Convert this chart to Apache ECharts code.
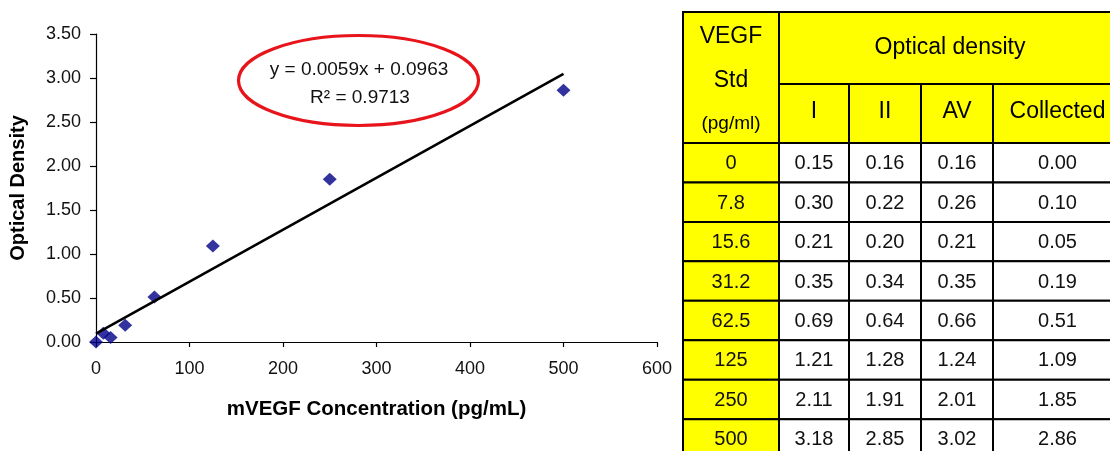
<!DOCTYPE html>
<html>
<head>
<meta charset="utf-8">
<script src="https://cdn.jsdelivr.net/npm/echarts@6/dist/echarts.min.js"></script>
<style>
html,body{margin:0;padding:0;background:#fff;}
#chart{width:1110px;height:451px;}
</style>
</head>
<body>
<div id="chart"></div>
<script>
// ---- data ----
var stdLabels = ['0', '7.8', '15.6', '31.2', '62.5', '125', '250', '500'];
var stdConc = [0, 7.8, 15.6, 31.2, 62.5, 125, 250, 500];
var odI = ['0.15', '0.30', '0.21', '0.35', '0.69', '1.21', '2.11', '3.18'];
var odII = ['0.16', '0.22', '0.20', '0.34', '0.64', '1.28', '1.91', '2.85'];
var odAV = ['0.16', '0.26', '0.21', '0.35', '0.66', '1.24', '2.01', '3.02'];
var odCollected = [0.00, 0.10, 0.05, 0.19, 0.51, 1.09, 1.85, 2.86];
var trendX = [0, 500];
var trendY = [0.0963, 3.0463];
var equationText = 'y = 0.0059x + 0.0963';
var r2Text = 'R\u00B2 = 0.9713';
var subHeaders = ['I', 'II', 'AV', 'Collected'];
var xTitle = 'mVEGF Concentration (pg/mL)';
var yTitle = 'Optical Density';

// ---- chart ----
var chart = echarts.init(document.getElementById('chart'), null, {renderer: 'canvas'});
var FONT = 'Arial, "Liberation Sans", sans-serif';

var scatterData = stdConc.map(function (x, i) { return [x, odCollected[i]]; });
var trendData = trendX.map(function (x, i) { return [x, trendY[i]]; });

// table graphics
var colX = [683, 779, 849, 921, 993, 1122];
var rowTop = 143, rowH = 39.45;
var YELLOW = '#ffff00';
var els = [];
function cell(x1, y1, x2, y2, fill) {
  els.push({type: 'rect', shape: {x: x1, y: y1, width: x2 - x1, height: y2 - y1},
    style: {fill: fill, stroke: '#000', lineWidth: 2}, z: 10});
}
function txt(s, x, y, size, color) {
  els.push({type: 'text', style: {text: s, x: x, y: y, align: 'center', verticalAlign: 'middle',
    font: size + 'px ' + FONT, fill: color || '#000'}, z: 11});
}
cell(colX[0], 12, colX[1], rowTop, YELLOW);
cell(colX[1], 12, colX[5], 84, YELLOW);
for (var c = 0; c < 4; c++) {
  cell(colX[c + 1], 84, colX[c + 2], rowTop, YELLOW);
  txt(subHeaders[c], (colX[c + 1] + colX[c + 2]) / 2, 112, 23);
}
txt('VEGF', 731, 37, 23);
txt('Std', 731, 81, 23);
txt('(pg/ml)', 731, 124, 19);
txt('Optical density', 950, 48, 23);
var cols = [stdLabels, odI, odII, odAV, odCollected.map(function (v) { return v.toFixed(2); })];
for (var r = 0; r < stdLabels.length; r++) {
  var y1 = rowTop + r * rowH, y2 = y1 + rowH;
  for (var k = 0; k < 5; k++) {
    cell(colX[k], y1, colX[k + 1], y2, k === 0 ? YELLOW : '#ffffff');
    txt(cols[k][r], (colX[k] + colX[k + 1]) / 2, (y1 + y2) / 2 + 1, 20, '#111');
  }
}
// trendline annotation
els.push({type: 'ellipse', shape: {cx: 358.5, cy: 80.5, rx: 120, ry: 45},
  style: {fill: 'none', stroke: '#e8141b', lineWidth: 3.2}, z: 5});
txt(equationText, 359, 70, 19, '#111');
txt(r2Text, 360, 98, 19, '#111');

var option = {
  animation: false,
  backgroundColor: '#ffffff',
  grid: {left: 96, top: 34, width: 561, height: 308, containLabel: false, outerBoundsMode: 'none'},
  xAxis: {
    type: 'value', min: 0, max: 600, interval: 100,
    name: xTitle, nameLocation: 'middle', nameGap: 57,
    nameTextStyle: {fontSize: 20.5, fontWeight: 'bold', color: '#000', fontFamily: FONT},
    axisLine: {show: true, onZero: false, lineStyle: {color: '#000', width: 1.2}},
    axisTick: {show: true, length: 5, inside: false, lineStyle: {color: '#000', width: 1.2}},
    axisLabel: {fontSize: 18, color: '#111', fontFamily: FONT, margin: 18},
    splitLine: {show: false}
  },
  yAxis: {
    type: 'value', min: 0, max: 3.5, interval: 0.5,
    name: yTitle, nameLocation: 'middle', nameGap: 68, nameRotate: 90,
    nameTextStyle: {fontSize: 20, fontWeight: 'bold', color: '#000', fontFamily: FONT},
    axisLine: {show: true, lineStyle: {color: '#000', width: 1.2}},
    axisTick: {show: true, length: 6, inside: false, lineStyle: {color: '#000', width: 1.2}},
    axisLabel: {fontSize: 18, color: '#111', fontFamily: FONT, margin: 15,
      formatter: function (v) { return v.toFixed(2); }},
    splitLine: {show: false}
  },
  series: [
    {type: 'scatter', data: scatterData, symbol: 'diamond', symbolSize: [14, 13],
      itemStyle: {color: '#000088'}, z: 2},
    {type: 'line', data: trendData, showSymbol: false, symbol: 'none',
      lineStyle: {color: '#000', width: 2.6}, z: 3}
  ],
  graphic: {elements: els}
};
chart.setOption(option);
</script>
</body>
</html>
